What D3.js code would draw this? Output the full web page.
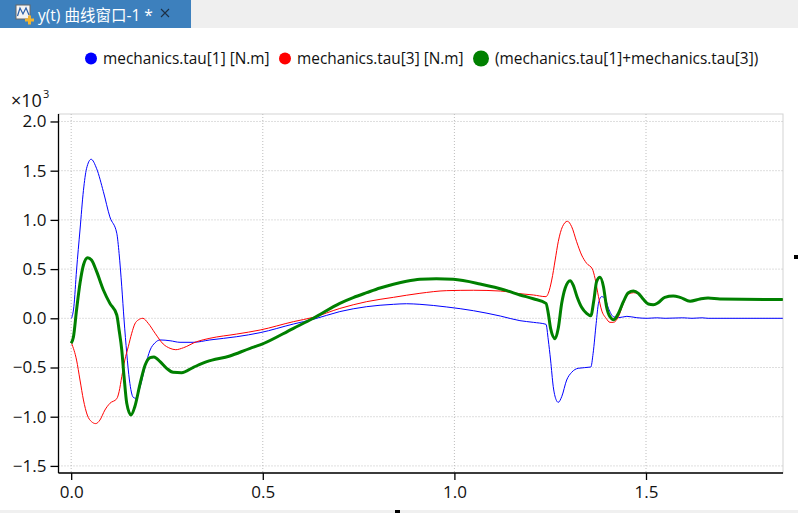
<!DOCTYPE html>
<html><head><meta charset="utf-8">
<script src="https://cdn.jsdelivr.net/npm/d3@7"></script>
<style>html,body{margin:0;padding:0;background:#fff;overflow:hidden}svg{display:block}text{font-family:"Open Sans","Noto Sans",sans-serif}</style>
</head><body><svg id="c" width="798" height="513"></svg>
<script>
const tabTitle = "y(t) 曲线窗口-1 *";
const legendLabels = ["mechanics.tau[1] [N.m]","mechanics.tau[3] [N.m]","(mechanics.tau[1]+mechanics.tau[3])"];
const xTicks = [0,0.5,1.0,1.5];
const yTicks = [-1.5,-1,-0.5,0,0.5,1,1.5,2];
const tau1T = [0.001,.007,.014,.023,.032,.040,.052,.0665,.084,.101,.119,.125,.132,.138,.145,.152,.162,.169,.180,.193,.206,.219,.232,.258,.284,.318,.362,.432,.493,.58,.632,.701,.771,.841,.875,.91,.98,1.05,1.12,1.171,1.206,1.239,1.245,1.251,1.258,1.265,1.271,1.28,1.293,1.306,1.323,1.356,1.362,1.37,1.376,1.384,1.393,1.402,1.415,1.428,1.45,1.476,1.503,1.528,1.55,1.596,1.62,1.646,1.662,1.857];
const tau1V = [0,.118,.49,.897,1.30,1.52,1.616,1.52,1.287,1.03,.864,.66,.32,-.017,-.356,-.627,-.803,-.813,-.695,-.492,-.322,-.248,-.22,-.228,-.244,-.244,-.22,-.187,-.146,-.058,-.01,.068,.118,.142,.148,.142,.115,.077,.023,-.024,-.041,-.061,-.22,-.424,-.695,-.823,-.854,-.797,-.627,-.549,-.508,-.495,-.356,-.051,.152,.22,.203,.102,.016,.006,.02,.006,0,.005,0,.005,0,.005,0,0];
const tau3T = [0.001,.014,.023,.032,.042,.053,.064,.075,.088,.101,.119,.125,.132,.140,.149,.158,.166,.175,.187,.201,.219,.240,.258,.273,.293,.327,.362,.432,.493,.58,.632,.701,.771,.841,.91,.98,1.05,1.12,1.171,1.206,1.239,1.245,1.254,1.263,1.271,1.282,1.295,1.306,1.319,1.332,1.345,1.36,1.367,1.376,1.384,1.396,1.406,1.415,1.428,1.441,1.454,1.467,1.48,1.493,1.506,1.519,1.532,1.549,1.571,1.589,1.615,1.641,1.662,1.693,1.857];
const tau3V = [-.254,-.424,-.627,-.83,-.983,-1.05,-1.07,-1.034,-.932,-.864,-.817,-.746,-.593,-.424,-.289,-.152,-.058,-.017,0,-.051,-.152,-.261,-.305,-.319,-.299,-.238,-.203,-.16,-.119,-.034,.01,.10,.169,.213,.254,.281,.285,.277,.25,.237,.22,.254,.389,.593,.778,.931,.986,.931,.778,.643,.559,.501,.406,.22,.084,0,-.041,-.041,.016,.15,.245,.26,.25,.19,.145,.135,.155,.213,.225,.21,.173,.193,.205,.196,.19];
const sumT = [0,.006,.014,.023,.032,.043,.053,.0665,.084,.101,.119,.125,.132,.138,.145,.156,.166,.18,.193,.206,.216,.232,.249,.266,.288,.319,.354,.414,.467,.493,.58,.632,.701,.736,.771,.806,.841,.875,.91,.953,.997,1.067,1.137,1.171,1.206,1.239,1.245,1.251,1.263,1.271,1.28,1.289,1.302,1.31,1.32,1.332,1.345,1.356,1.364,1.371,1.38,1.389,1.397,1.406,1.416,1.428,1.441,1.454,1.467,1.48,1.493,1.506,1.519,1.532,1.549,1.571,1.589,1.615,1.641,1.662,1.693,1.857];
const sumV = [-.254,-.187,.084,.356,.542,.616,.593,.474,.288,.152,.034,-.119,-.322,-.593,-.864,-.983,-.898,-.661,-.475,-.4,-.393,-.441,-.508,-.549,-.553,-.498,-.441,-.383,-.305,-.271,-.102,0,.152,.21,.26,.308,.346,.376,.396,.402,.396,.349,.281,.237,.199,.152,.05,-.102,-.207,-.102,.152,.305,.382,.338,.22,.112,.05,.026,.186,.372,.417,.321,.118,.016,-.014,.05,.169,.26,.277,.254,.193,.145,.138,.159,.213,.227,.213,.173,.196,.206,.196,.19];
const seriesColors = ["#0000ff","#ff0000","#008000"];

const svg = d3.select("#c");
const L=58.5,R=783,T=114,B=473;
const x = d3.scaleLinear().domain([-0.0331,1.8575]).range([L,R]);
const y = d3.scaleLinear().domain([-1.572,2.076]).range([B,T]);

// window chrome
svg.append("rect").attr("width",798).attr("height",28).attr("fill","#efefef");
svg.append("rect").attr("width",191).attr("height",28).attr("fill","#3d80bd");
const ic = svg.append("g").attr("transform","translate(16,5)");
ic.append("rect").attr("width",14).attr("height",14).attr("fill","#f4f4f4").attr("stroke","#666");
ic.append("path").attr("d","M1.5 11 L4 3 L7 9 L10 3 L13 10").attr("fill","none").attr("stroke","#2a5ea8").attr("stroke-width",1.2);
ic.append("path").attr("d","M12 10.5h3v3h3v3h-3v3h-3v-3h-3v-3h3z").attr("fill","#f2b431");
svg.append("text").attr("x",38).attr("y",21).attr("font-size",15.5).attr("fill","#fff").style("font-family",'"Open Sans","Noto Sans CJK SC",sans-serif').text(tabTitle);
svg.append("path").attr("d","M161 9 L169 17 M169 9 L161 17").attr("stroke","#1d2f45").attr("stroke-width",1.1);
svg.append("rect").attr("y",510).attr("width",798).attr("height",3).attr("fill","#f0f0f0");
svg.append("rect").attr("x",794).attr("y",255).attr("width",4).attr("height",4).attr("fill","#000");
svg.append("rect").attr("x",395).attr("y",510).attr("width",5).attr("height",3).attr("fill","#000");

// legend
const lx=[91,285,481], lr=[6,6,8], tx=[103,297,495];
legendLabels.forEach((s,i)=>{
  svg.append("circle").attr("cx",lx[i]).attr("cy",58.5).attr("r",lr[i]).attr("fill",seriesColors[i]);
  svg.append("text").attr("x",tx[i]).attr("y",64).attr("font-size",15.4).attr("fill","#111").text(s);
});

// frame and grid
svg.append("rect").attr("x",L).attr("y",T).attr("width",R-L).attr("height",B-T).attr("fill","#fff").attr("stroke","#d3d3d3");
const grid = svg.append("g").attr("stroke","#bdbdbd").attr("stroke-dasharray","1 2");
xTicks.forEach(v=>grid.append("line").attr("x1",x(v)).attr("x2",x(v)).attr("y1",T).attr("y2",B));
yTicks.forEach(v=>grid.append("line").attr("x1",L).attr("x2",R).attr("y1",y(v)).attr("y2",y(v)));

// series
const clip = svg.append("clipPath").attr("id","cp").append("rect").attr("x",L).attr("y",T).attr("width",R-L).attr("height",B-T);
const plot = svg.append("g").attr("clip-path","url(#cp)");
const line = d3.line().x(d=>x(d[0])).y(d=>y(d[1])).curve(d3.curveMonotoneX);
[[tau1T,tau1V,1],[tau3T,tau3V,1],[sumT,sumV,3]].forEach((s,i)=>{
  plot.append("path").datum(d3.zip(s[0],s[1])).attr("d",line).attr("fill","none").attr("stroke",seriesColors[i]).attr("stroke-width",s[2]);
});

// axes
const ax = svg.append("g").attr("transform",`translate(0,${B})`).call(d3.axisBottom(x).tickValues(xTicks).tickFormat(d3.format(".1f")).tickSizeOuter(0).tickSize(7).tickPadding(6));
const ay = svg.append("g").attr("transform",`translate(${L},0)`).call(d3.axisLeft(y).tickValues(yTicks).tickFormat(d3.format(".1f")).tickSizeOuter(0).tickSize(8).tickPadding(4));
[ax,ay].forEach(a=>{
  a.selectAll("text").attr("font-size",17).attr("fill","#111").style("font-family",'"Open Sans",sans-serif');
  a.selectAll("line,path").attr("stroke","#000").attr("stroke-width",1.3);
});
ax.select(".domain").attr("d",`M${L},0H${R}`);
ay.select(".domain").attr("d",`M0,${T}V${B}`);

// exponent label
svg.append("text").attr("x",11).attr("y",107).attr("font-size",18).attr("fill","#111").text("×10");
svg.append("text").attr("x",43).attr("y",98).attr("font-size",11).attr("fill","#111").text("3");
</script></body></html>
